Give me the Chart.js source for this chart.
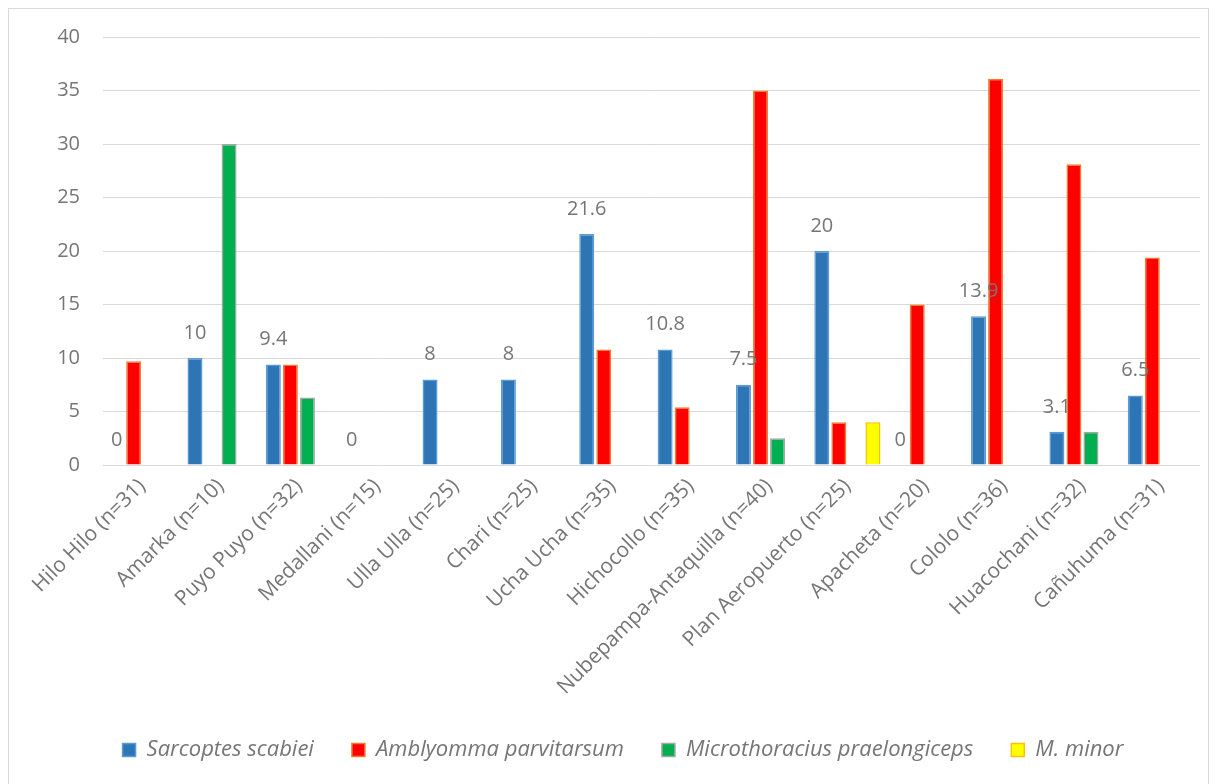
<!DOCTYPE html>
<html>
<head>
<meta charset="utf-8">
<script src="https://cdn.jsdelivr.net/npm/chart.js@4.4.0/dist/chart.umd.min.js"></script>
<style>
  html, body { margin: 0; padding: 0; background: #fff; }
  #wrap { width: 1217px; height: 784px; }
</style>
</head>
<body>
<div id="wrap"><canvas id="chart" width="1217" height="784"></canvas></div>
<script>
// sites sampled
const sites = [
  'Hilo Hilo (n=31)', 'Amarka (n=10)', 'Puyo Puyo (n=32)', 'Medallani (n=15)',
  'Ulla Ulla (n=25)', 'Chari (n=25)', 'Ucha Ucha (n=35)', 'Hichocollo (n=35)',
  'Nubepampa-Antaquilla (n=40)', 'Plan Aeropuerto (n=25)', 'Apacheta (n=20)',
  'Cololo (n=36)', 'Huacochani (n=32)', 'Cañuhuma (n=31)'
];

// prevalence (%) per parasite
const sarcoptes      = [0, 10, 9.4, 0, 8, 8, 21.6, 10.8, 7.5, 20, 0, 13.9, 3.1, 6.5];
const amblyomma      = [9.7, null, 9.4, null, null, null, 10.8, 5.4, 35, 4, 15, 36.1, 28.1, 19.4];
const microthoracius = [null, 30, 6.3, null, null, null, null, null, 2.5, null, null, null, 3.1, null];
const mMinor         = [null, null, null, null, null, null, null, null, null, 4, null, null, null, null];

const FONT = '"Open Sans", "DejaVu Sans", sans-serif';
const GREY = '#767676';

// value labels above the Sarcoptes bars
const barLabels = {
  id: 'barLabels',
  afterDatasetsDraw(chart) {
    const meta = chart.getDatasetMeta(0);
    const ctx = chart.ctx;
    ctx.save();
    ctx.font = '20px ' + FONT;
    ctx.fillStyle = GREY;
    ctx.textAlign = 'center';
    ctx.textBaseline = 'middle';
    meta.data.forEach((bar, i) => {
      if (sarcoptes[i] == null) return;
      ctx.fillText(String(sarcoptes[i]), bar.x, bar.y - 25);
    });
    ctx.restore();
  }
};

// thin frame around the whole chart
const frame = {
  id: 'frame',
  beforeDraw(chart) {
    const ctx = chart.ctx;
    ctx.save();
    ctx.strokeStyle = '#d9d9d9';
    ctx.lineWidth = 1;
    ctx.strokeRect(8.5, 8.5, 1200, 785);
    ctx.restore();
  }
};

new Chart(document.getElementById('chart'), {
  type: 'bar',
  data: {
    labels: sites,
    datasets: [
      { label: 'Sarcoptes scabiei', data: sarcoptes, backgroundColor: '#2e75b6', borderColor: '#5b9bd5' },
      { label: 'Amblyomma parvitarsum', data: amblyomma, backgroundColor: '#ff0000', borderColor: '#ed7d31' },
      { label: 'Microthoracius praelongiceps', data: microthoracius, backgroundColor: '#00b050', borderColor: '#a5a5a5' },
      { label: 'M. minor', data: mMinor, backgroundColor: '#ffff00', borderColor: '#ffc000' }
    ]
  },
  options: {
    responsive: false,
    animation: false,
    devicePixelRatio: 1,
    datasets: {
      bar: { categoryPercentage: 0.87, barPercentage: 0.88, borderWidth: 1.5 }
    },
    layout: { padding: { left: 46, right: 17, top: 37, bottom: 13 } },
    plugins: {
      legend: {
        position: 'bottom',
        labels: {
          color: GREY,
          boxWidth: 13,
          boxHeight: 13,
          padding: 38,
          font: { family: FONT, size: 22, style: 'italic' }
        }
      },
      tooltip: { enabled: false }
    },
    scales: {
      x: {
        grid: { display: false },
        border: { display: false },
        ticks: {
          color: GREY,
          autoSkip: false,
          minRotation: 45,
          maxRotation: 45,
          padding: 1,
          font: { family: FONT, size: 21 }
        },
        afterFit(scale) {
          scale.height = 236;
          // let the long rotated labels run past the axis box
          scale._computeLabelArea = () => undefined;
        }
      },
      y: {
        min: 0,
        max: 40,
        grid: { color: '#d9d9d9', drawTicks: false },
        border: { display: false },
        ticks: {
          stepSize: 5,
          color: GREY,
          padding: 23,
          font: { family: FONT, size: 20 }
        },
        afterFit(scale) { scale.width = 57; }
      }
    }
  },
  plugins: [frame, barLabels]
});
</script>
</body>
</html>
